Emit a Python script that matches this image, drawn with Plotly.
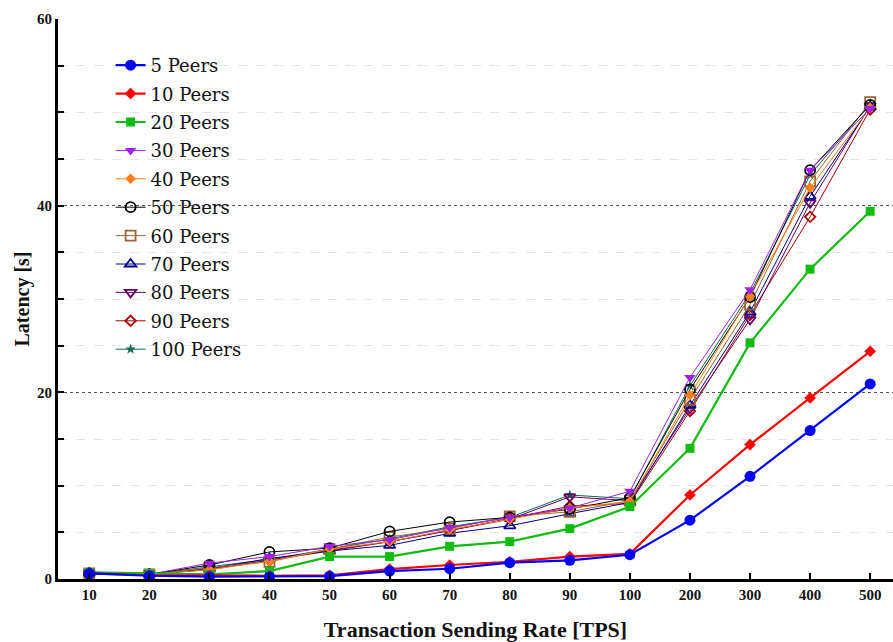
import plotly.graph_objects as go

rates = ["10", "20", "30", "40", "50", "60", "70", "80", "90", "100", "200", "300", "400", "500"]

p5 = [0.6, 0.35, 0.25, 0.25, 0.3, 0.85, 1.1, 1.75, 2.0, 2.6, 6.3, 11.0, 15.9, 20.9]
p10 = [0.6, 0.4, 0.4, 0.35, 0.4, 1.05, 1.5, 1.85, 2.4, 2.7, 9.0, 14.4, 19.4, 24.4]
p20 = [0.7, 0.6, 0.5, 0.85, 2.4, 2.4, 3.5, 4.0, 5.4, 7.75, 14.0, 25.3, 33.2, 39.4]
p30 = [0.6, 0.5, 1.7, 2.4, 3.5, 4.2, 5.5, 6.6, 7.6, 9.4, 21.6, 31.0, 43.8, 50.4]
p40 = [0.6, 0.5, 1.0, 1.9, 3.2, 4.0, 5.3, 6.4, 7.6, 8.3, 19.7, 30.3, 41.9, 50.5]
p50 = [0.6, 0.5, 1.5, 2.9, 3.3, 5.1, 6.1, 6.6, 7.5, 8.7, 20.3, 30.2, 43.8, 50.8]
p60 = [0.6, 0.5, 1.2, 1.85, 3.2, 4.5, 5.4, 6.7, 7.2, 8.4, 19.2, 29.4, 42.6, 51.1]
p70 = [0.6, 0.5, 1.1, 2.2, 3.0, 3.6, 4.9, 5.7, 7.0, 8.2, 18.6, 28.6, 41.0, 50.6]
p80 = [0.6, 0.5, 1.1, 2.0, 3.1, 4.0, 5.2, 6.4, 8.8, 8.4, 18.3, 27.8, 40.3, 50.7]
p90 = [0.6, 0.5, 1.0, 2.0, 3.0, 4.0, 5.2, 6.5, 7.8, 8.1, 18.0, 28.3, 38.8, 50.3]
p100 = [0.6, 0.5, 1.3, 2.1, 3.2, 4.3, 5.6, 6.6, 9.0, 8.6, 20.7, 30.6, 43.3, 50.9]

series = [
    ("5 Peers", p5, "#0000FF", "circle", 11, 2.2, None),
    ("10 Peers", p10, "#FF0000", "diamond", 9, 2.2, None),
    ("20 Peers", p20, "#11BB11", "square", 9, 2.2, None),
    ("30 Peers", p30, "#A020F0", "triangle-down", 10, 1, None),
    ("40 Peers", p40, "#FF8010", "diamond", 8, 1, None),
    ("50 Peers", p50, "#000000", "circle-open", 10, 1, 1.8),
    ("60 Peers", p60, "#996633", "square-open", 10, 1, 1.8),
    ("70 Peers", p70, "#00008B", "triangle-up-open", 10, 1, 1.8),
    ("80 Peers", p80, "#660066", "triangle-down-open", 10, 1, 1.8),
    ("90 Peers", p90, "#AA0000", "diamond-open", 8, 1, 1.8),
    ("100 Peers", p100, "#0B6B4F", "star", 8, 1, None),
]

fig = go.Figure()
for i, (name, vals, color, sym, size, lw, mlw) in reversed(list(enumerate(series))):
    marker = dict(symbol=sym, size=size, color=color)
    if mlw:
        marker["line"] = dict(color=color, width=mlw)
    fig.add_trace(go.Scatter(
        x=rates, y=vals, name=name, mode="lines+markers",
        line=dict(color=color, width=lw), marker=marker,
        legendgroup=name, legendrank=i + 1,
    ))

fig.update_layout(
    width=893, height=642,
    margin=dict(l=58, r=0, t=19, b=63),
    paper_bgcolor="white", plot_bgcolor="white",
    showlegend=True,
    legend=dict(
        x=0.063, y=0.95, xanchor="left", yanchor="top",
        traceorder="grouped", tracegroupgap=2,
        font=dict(family="DejaVu Serif", size=18, color="#111"),
        bgcolor="rgba(0,0,0,0)",
    ),
    font=dict(family="Liberation Serif", color="#111"),
)

fig.update_xaxes(
    type="category", categoryorder="array", categoryarray=rates,
    range=[-0.52, 13.38],
    showline=True, linecolor="black", linewidth=3,
    ticks="inside", ticklen=6, tickwidth=2, tickcolor="black",
    showgrid=False, zeroline=False,
    tickfont=dict(family="Liberation Serif", size=15, color="#111", weight="bold"),
    title=dict(text="<b>Transaction Sending Rate [TPS]</b>", standoff=22,
               font=dict(family="Liberation Serif", size=22, color="#111")),
    automargin=False,
)

fig.update_yaxes(
    range=[0, 60], dtick=20, tick0=0,
    showline=True, linecolor="black", linewidth=3,
    ticks="inside", ticklen=6, tickwidth=2, tickcolor="black",
    showgrid=True, gridcolor="#555555", griddash="dot", gridwidth=1,
    zeroline=False,
    minor=dict(dtick=5, ticks="inside", ticklen=6, tickwidth=2, tickcolor="black",
               showgrid=True, gridcolor="#E4E4E4", griddash="dash", gridwidth=1),
    tickfont=dict(family="Liberation Serif", size=15, color="#111", weight="bold"),
    title=dict(text="<b>Latency [s]</b>", standoff=3,
               font=dict(family="Liberation Serif", size=20, color="#111")),
    automargin=False,
)

fig.write_html("out.html")
